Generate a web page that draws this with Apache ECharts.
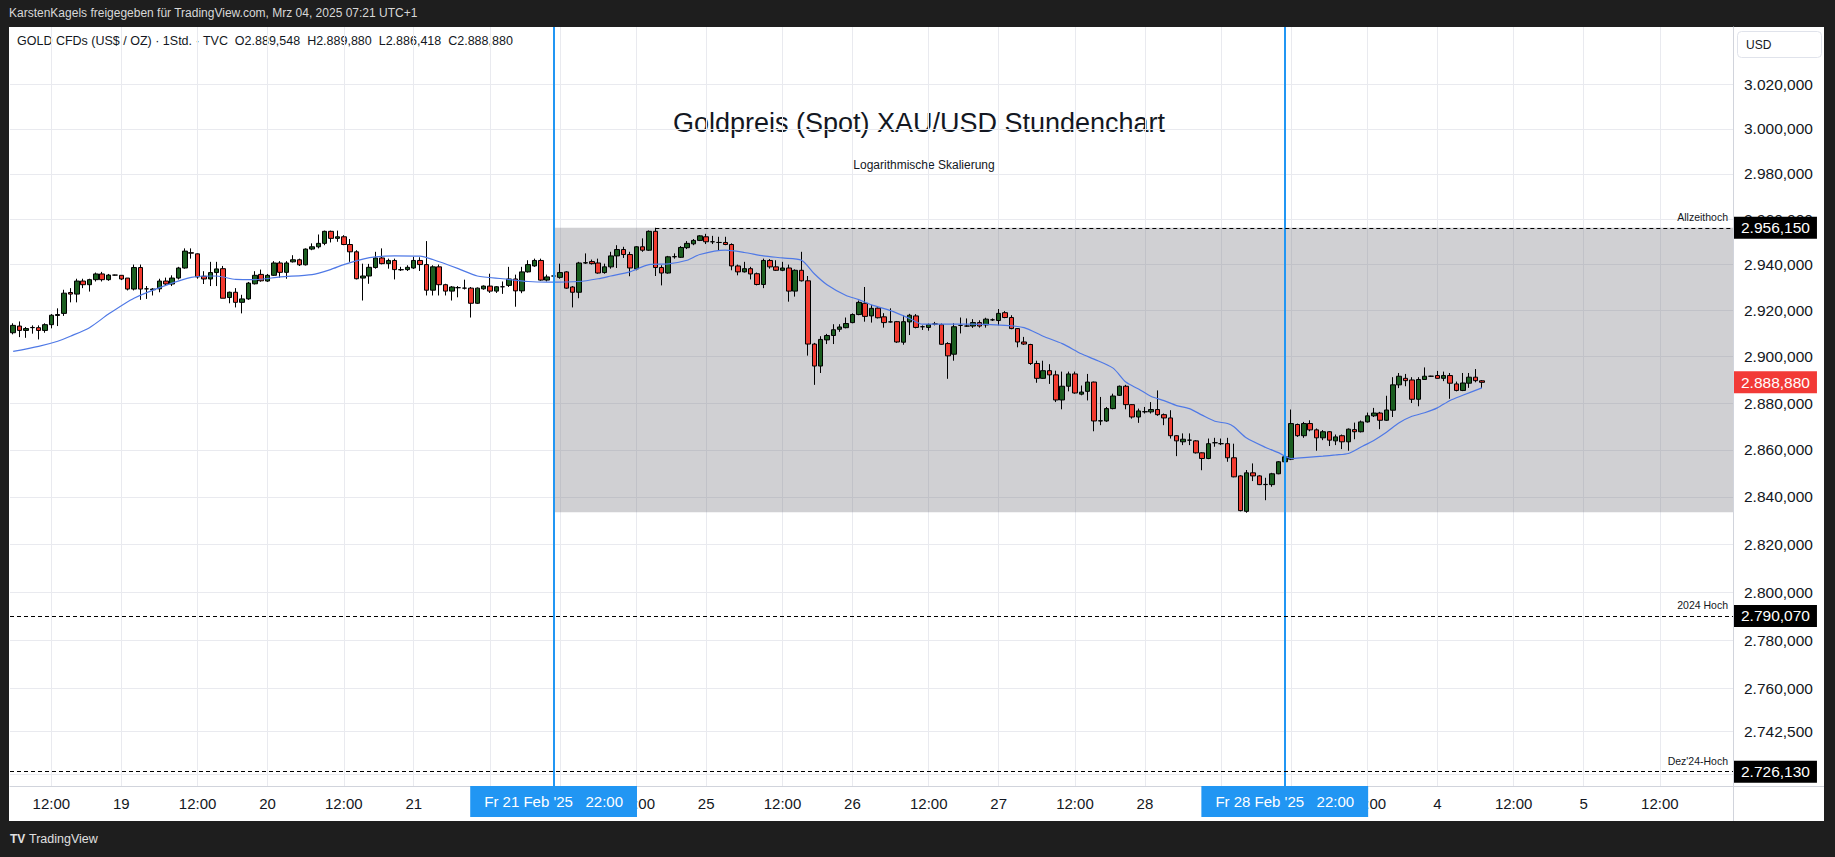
<!DOCTYPE html>
<html><head><meta charset="utf-8">
<script src="https://cdn.jsdelivr.net/npm/echarts@6/dist/echarts.min.js"></script>
<style>
html,body{margin:0;padding:0;background:#1e1e1e;width:1835px;height:857px;overflow:hidden}
#panel{position:absolute;left:9px;top:27px;width:1815px;height:794px;background:#ffffff}
#chart{position:absolute;left:0;top:0;width:1835px;height:857px}
</style></head><body>
<div id="panel"></div>
<div id="chart"></div>
<script>
// ---------- time axis (hourly bars, 23 per trading day, 00:00-22:00 UTC+1) ----------
const tradingDays = ['2025-02-18','2025-02-19','2025-02-20','2025-02-21','2025-02-24','2025-02-25','2025-02-26','2025-02-27','2025-02-28','2025-03-03','2025-03-04','2025-03-05','2025-03-06'];
const barsPerDay = 23;
const firstHour = 6;      // first visible slot: 18 Feb 06:00
const slotCount = 271;    // visible slots incl. empty future space

// ---------- OHLC (hourly), index 0 = 18 Feb 06:00 ----------
const opens = [2910.3,2913.2,2911.3,2912.5,2912.5,2911.3,2913.8,2917.8,2918.7,2927.8,2927.1,2932.8,2931.2,2933.4,2935.9,2933.4,2935.4,2935.3,2934.1,2929.3,2938.7,2929.4,2929.0,2929.4,2932.8,2931.5,2934.1,2938.5,2945.2,2944.7,2934.9,2933.7,2936.5,2938.2,2925.6,2927.9,2923.5,2925.0,2931.6,2935.7,2932.8,2935.3,2940.7,2936.6,2941.2,2942.1,2939.9,2946.8,2947.8,2949.3,2954.6,2951.5,2952.2,2948.8,2945.6,2934.1,2935.0,2938.7,2942.9,2940.4,2941.8,2937.8,2937.8,2938.5,2941.8,2940.0,2928.8,2939.0,2931.2,2928.4,2929.9,2929.7,2929.7,2923.1,2929.4,2930.6,2928.4,2930.3,2930.9,2933.7,2928.5,2936.8,2939.4,2941.8,2933.2,2935.0,2934.4,2936.8,2930.2,2927.9,2940.7,2941.3,2940.7,2936.5,2939.0,2943.8,2946.6,2944.4,2938.1,2947.8,2946.3,2954.6,2938.7,2936.3,2943.4,2943.2,2947.4,2949.1,2950.6,2952.2,2950.0,2949.7,2949.7,2948.8,2939.4,2936.8,2938.2,2936.0,2931.3,2941.8,2939.0,2937.5,2938.5,2928.4,2937.5,2932.9,2905.4,2895.9,2907.2,2909.1,2911.8,2912.5,2914.7,2918.2,2923.1,2917.6,2921.0,2917.2,2915.0,2915.1,2906.2,2915.0,2917.6,2912.9,2912.6,2914.1,2913.8,2905.6,2901.0,2913.5,2913.2,2913.2,2914.7,2913.7,2915.9,2915.6,2919.0,2916.9,2912.1,2906.3,2905.2,2897.0,2890.6,2893.9,2892.1,2881.3,2887.2,2892.5,2883.8,2885.0,2889.0,2872.3,2872.3,2877.6,2883.3,2887.2,2879.3,2874.0,2876.2,2876.2,2877.2,2875.0,2873.6,2866.0,2863.4,2864.1,2863.8,2858.7,2856.3,2863.0,2862.6,2862.6,2856.6,2848.9,2833.9,2850.2,2848.9,2845.2,2845.2,2849.8,2854.9,2856.0,2870.8,2866.0,2871.2,2868.5,2865.1,2867.7,2863.8,2866.0,2863.4,2868.6,2867.7,2871.9,2874.5,2875.7,2872.6,2876.9,2887.8,2890.6,2889.9,2881.6,2890.1,2891.5,2891.8,2890.6,2891.8,2888.2,2885.4,2888.5,2891.1,2889.548];
const closes = [2913.5,2911.3,2912.1,2912.6,2911.3,2913.8,2917.9,2918.2,2927.5,2927.1,2932.8,2931.2,2933.4,2935.9,2933.4,2935.4,2935.4,2933.7,2929.3,2938.7,2929.3,2929.4,2929.3,2932.8,2931.5,2934.1,2938.5,2945.9,2945.0,2934.6,2933.7,2936.5,2938.1,2925.3,2927.9,2923.5,2925.0,2931.9,2935.3,2932.9,2935.3,2940.7,2936.6,2940.7,2942.1,2939.9,2946.8,2947.8,2949.3,2954.6,2951.5,2952.2,2948.8,2945.6,2933.8,2935.0,2938.8,2942.9,2940.4,2941.8,2937.8,2937.7,2938.8,2941.8,2940.0,2928.8,2939.0,2931.2,2928.4,2930.2,2929.9,2929.7,2923.1,2929.7,2930.6,2928.4,2930.3,2930.3,2933.7,2928.5,2936.8,2940.0,2941.8,2933.2,2934.6,2935.0,2936.5,2929.7,2927.9,2940.7,2940.8,2940.4,2936.3,2939.0,2943.8,2946.6,2944.4,2938.5,2947.8,2946.3,2954.6,2938.7,2936.3,2943.4,2943.5,2947.5,2949.3,2950.6,2952.6,2950.0,2950.0,2949.7,2948.8,2939.4,2936.8,2938.2,2935.9,2931.3,2941.8,2939.0,2937.5,2938.5,2928.4,2937.5,2932.9,2905.4,2895.9,2907.4,2909.1,2911.6,2912.8,2914.3,2918.2,2923.5,2917.4,2920.9,2916.8,2914.7,2915.0,2906.3,2915.1,2917.9,2912.6,2912.9,2913.8,2914.1,2905.3,2900.3,2912.9,2913.5,2913.2,2914.7,2913.2,2916.2,2915.9,2918.7,2916.9,2912.1,2906.3,2905.4,2897.0,2890.6,2893.9,2892.1,2881.3,2887.2,2892.5,2884.3,2884.7,2889.0,2872.3,2872.4,2877.6,2883.0,2887.2,2879.3,2874.0,2876.6,2876.3,2877.2,2875.0,2873.6,2866.0,2863.8,2864.5,2864.1,2858.7,2856.3,2862.6,2863.0,2862.6,2856.6,2848.5,2834.2,2850.2,2848.9,2845.2,2845.3,2849.8,2854.9,2857.0,2871.2,2866.0,2871.2,2868.5,2865.1,2867.7,2864.1,2865.5,2863.4,2868.8,2867.7,2871.9,2874.5,2875.7,2872.6,2877.0,2887.8,2891.5,2889.6,2881.6,2890.1,2891.5,2891.5,2890.6,2891.8,2888.5,2885.4,2888.6,2891.1,2889.6,2888.880];
const lows = [2909.6,2908.4,2908.1,2909.9,2907.4,2910.3,2912.2,2913.2,2917.6,2923.5,2923.5,2929.7,2928.2,2932.6,2932.6,2932.9,2935.2,2933.2,2928.7,2928.7,2924.6,2925.0,2926.5,2927.9,2930.9,2930.6,2933.5,2938.2,2942.6,2933.8,2931.5,2930.6,2930.6,2925.3,2923.1,2921.3,2918.7,2924.6,2931.3,2932.5,2932.4,2935.0,2934.3,2933.8,2940.9,2939.4,2939.6,2946.3,2947.1,2948.5,2949.7,2950.0,2948.5,2941.2,2933.5,2924.3,2931.6,2938.2,2940.1,2938.2,2933.5,2937.2,2937.2,2938.1,2937.2,2926.5,2926.5,2926.5,2926.5,2924.3,2925.7,2929.1,2916.9,2922.8,2929.0,2927.6,2927.6,2927.2,2930.2,2921.6,2927.5,2936.5,2939.0,2932.9,2932.6,2933.8,2933.8,2929.4,2921.3,2925.3,2940.3,2940.0,2936.0,2936.0,2938.2,2938.5,2942.9,2934.9,2937.5,2945.6,2946.0,2935.0,2930.9,2936.0,2942.6,2942.9,2946.8,2948.5,2950.3,2949.0,2949.0,2946.0,2948.5,2937.5,2935.3,2936.5,2933.5,2930.9,2929.7,2938.2,2937.2,2937.1,2923.8,2926.0,2932.6,2900.4,2887.8,2892.9,2905.4,2905.4,2910.7,2912.2,2914.4,2917.9,2915.1,2914.7,2916.5,2912.5,2914.7,2905.9,2905.1,2909.3,2912.2,2911.5,2911.2,2913.5,2905.1,2890.4,2898.2,2910.0,2912.8,2912.4,2912.5,2912.5,2915.4,2913.5,2916.6,2911.8,2904.0,2905.0,2896.4,2888.7,2890.4,2888.2,2880.4,2877.3,2885.0,2884.0,2883.3,2881.1,2867.9,2870.5,2871.9,2877.3,2883.0,2877.3,2873.3,2871.5,2875.5,2875.5,2874.5,2870.5,2864.8,2857.3,2862.0,2862.0,2858.4,2851.3,2856.0,2861.3,2862.0,2854.9,2848.3,2833.9,2833.3,2846.7,2845.0,2838.6,2844.3,2849.6,2853.8,2855.6,2865.5,2865.1,2867.9,2859.6,2864.1,2861.6,2862.0,2860.3,2859.6,2864.5,2867.4,2871.6,2874.0,2868.8,2872.3,2874.0,2886.4,2887.2,2880.0,2878.6,2889.9,2891.2,2890.4,2889.4,2881.8,2885.0,2885.1,2886.5,2888.9,2886.418];
const highs = [2914.4,2915.2,2912.8,2913.5,2913.5,2914.4,2918.4,2920.9,2929.0,2929.7,2933.8,2933.8,2933.8,2936.5,2936.8,2935.9,2935.6,2935.3,2934.1,2940.0,2940.0,2930.6,2929.7,2933.8,2934.3,2935.3,2939.0,2947.1,2947.1,2944.9,2937.1,2941.2,2941.2,2939.4,2928.2,2929.7,2926.8,2932.4,2937.1,2937.8,2935.9,2941.5,2941.5,2941.5,2944.1,2942.6,2947.1,2949.3,2953.2,2954.9,2954.9,2954.9,2952.9,2951.2,2946.3,2940.4,2940.3,2945.6,2947.1,2942.6,2942.6,2939.0,2939.7,2943.4,2943.2,2950.3,2939.7,2940.0,2931.6,2930.6,2930.6,2933.4,2930.2,2930.0,2930.9,2936.0,2930.6,2932.6,2939.0,2935.6,2939.0,2941.9,2942.6,2942.6,2935.6,2937.9,2940.4,2937.1,2930.6,2941.2,2944.9,2942.2,2942.6,2940.4,2945.6,2948.5,2947.8,2945.6,2948.1,2951.5,2955.0,2956.15,2939.7,2943.8,2944.9,2948.1,2950.3,2951.2,2952.9,2953.5,2952.6,2952.2,2952.2,2949.3,2940.0,2941.2,2939.0,2936.5,2942.6,2942.4,2941.9,2941.2,2940.0,2937.9,2945.6,2935.0,2905.9,2908.8,2909.8,2914.0,2914.0,2916.9,2918.7,2924.3,2930.2,2922.4,2921.3,2918.8,2920.9,2915.4,2917.9,2918.5,2918.4,2913.5,2914.3,2915.0,2914.3,2906.2,2914.4,2916.9,2916.5,2916.2,2915.7,2916.8,2916.5,2920.6,2919.7,2917.9,2912.3,2908.5,2905.5,2898.2,2898.2,2896.7,2893.9,2893.5,2893.5,2893.5,2887.5,2892.5,2889.2,2882.6,2878.3,2884.0,2887.5,2887.8,2879.5,2877.6,2878.3,2880.4,2885.4,2875.5,2876.9,2866.2,2867.0,2867.0,2864.1,2858.9,2864.8,2865.1,2864.8,2865.1,2862.6,2849.2,2851.4,2854.2,2849.2,2848.1,2850.2,2855.2,2860.3,2877.2,2871.2,2871.9,2872.6,2869.1,2868.4,2867.9,2866.5,2866.5,2869.1,2871.6,2872.5,2875.9,2877.9,2876.2,2883.1,2891.1,2892.9,2892.5,2891.1,2891.1,2895.3,2891.7,2893.8,2893.5,2892.9,2889.2,2892.9,2892.9,2894.6,2889.880];

// ---------- moving average (bar index, value) ----------
const maIndex = [0,4,7,9,12,15,19,24,28,32,35,38,42,47,50,52,55,57,60,64,66,70,73,77,81,84,89,92,94,97,100,103,106,108,112,115,118,121,124,126,128,131,133,135,138,141,143,146,150,156,159,162,165,168,170,173,175,177,179,181,183,185,187,189,191,192,194,197,199,201,203,206,208,210,212,214,216,218,220,222,224,226,228,231];
const maValue = [2902.2,2904.4,2906.6,2908.8,2912.5,2918.4,2925.3,2930.9,2934.4,2935.0,2933.5,2933.4,2934.6,2935.6,2937.9,2940.0,2942.4,2943.4,2943.8,2943.7,2942.2,2938.2,2935.0,2933.8,2932.6,2932.3,2932.6,2933.8,2935.0,2936.8,2940.0,2940.3,2941.9,2944.4,2946.3,2945.3,2943.8,2942.9,2941.9,2936.0,2931.2,2926.5,2924.7,2922.4,2919.9,2916.5,2914.0,2914.0,2914.0,2913.5,2912.5,2908.8,2905.6,2901.2,2898.9,2895.0,2889.0,2886.0,2882.8,2881.0,2878.9,2877.6,2874.8,2872.2,2871.2,2869.8,2865.0,2861.0,2858.8,2856.3,2856.7,2857.3,2857.8,2858.4,2861.2,2864.0,2867.5,2871.5,2874.3,2875.8,2877.9,2881.1,2883.3,2886.5];

// ---------- price scale ticks & annotations ----------
const priceTicks = [3020,3000,2980,2960,2940,2920,2900,2880,2860,2840,2820,2800,2780,2760,2742.5];
const gridTicks = [3020,3000,2980,2960,2940,2920,2900,2880,2860,2840,2820,2800,2780,2760,2742.5,2725];
const yMin = 2720.3, yMax = 3045.9;
const allTimeHigh = 2956.15, high2024 = 2790.07, highDec24 = 2726.13, lastClose = 2888.88, rangeLow = 2833.5;
const athBar = 101;
const markerBars = [85, 200];
const markerTexts = ["Fr 21 Feb '25   22:00", "Fr 28 Feb '25   22:00"];

// ---------- build ----------
const categories = [];
tradingDays.forEach(function (d, di) {
  for (let h = 0; h < barsPerDay; h++) {
    if (di === 0 && h < firstHour) continue;
    if (categories.length < slotCount) categories.push(d + ' ' + String(h).padStart(2, '0') + ':00');
  }
});
const candleData = opens.map(function (o, i) { return [o, closes[i], lows[i], highs[i]]; });
const maData = maIndex.map(function (i, k) { return [i, maValue[k]]; });

function isMark(i) {
  if (i >= categories.length - 1) return false;
  const h = categories[i].slice(11, 13);
  return h === '00' || h === '12';
}
// day labels that sit under the blue date boxes are not shown (as in the original)
function showLabel(i) {
  return isMark(i) && markerBars.indexOf(i - 1) < 0;
}
function fmtTime(v) {
  const h = v.slice(11, 13);
  if (h === '12') return '12:00';
  return String(parseInt(v.slice(8, 10), 10));
}
function fmtPrice(v) {
  v = Math.round(v * 1000) / 1000;
  const parts = v.toFixed(3).split('.');
  return parts[0].replace(/\B(?=(\d{3})+(?!\d))/g, '.') + ',' + parts[1];
}

const FONT = "'Liberation Sans', Arial, sans-serif";
const priceBox = function (val, bg) {
  return {
    yAxis: val,
    lineStyle: { color: 'rgba(0,0,0,0)', width: 1 },
    label: { show: true, position: 'end', distance: 1, formatter: fmtPrice(val), backgroundColor: bg, color: '#ffffff',
      padding: [4, 7, 3, 7], fontSize: 15.5, lineHeight: 15, fontFamily: FONT }
  };
};
const dashed = { color: '#000000', width: 1, type: [4, 3] };
const noteLabel = function (t) {
  return { show: true, position: 'insideEndTop', distance: 5, formatter: t, color: '#131722', fontSize: 10.5, fontFamily: FONT };
};

const chart = echarts.init(document.getElementById('chart'), null, { renderer: 'svg', width: 1835, height: 857 });

function buildMarkLines(athEndPx) {
  const out = [];
  markerBars.forEach(function (b, k) {
    out.push({
      xAxis: b,
      lineStyle: { color: '#2196f3', width: 2, type: 'solid' },
      label: { show: true, position: 'start', distance: 0, formatter: markerTexts[k], backgroundColor: '#2196f3', color: '#ffffff',
        padding: [8, 14, 8, 14], fontSize: 15, lineHeight: 15, fontFamily: FONT }
    });
  });
  if (athEndPx) {
    out.push([
      { coord: [athBar, allTimeHigh], lineStyle: dashed, label: noteLabel('Allzeithoch') },
      { x: athEndPx[0], y: athEndPx[1] }
    ]);
  }
  out.push({ yAxis: high2024, lineStyle: dashed, label: noteLabel('2024 Hoch') });
  out.push({ yAxis: highDec24, lineStyle: dashed, label: noteLabel("Dez'24-Hoch") });
  out.push(priceBox(allTimeHigh, '#000000'));
  out.push(priceBox(high2024, '#000000'));
  out.push(priceBox(highDec24, '#000000'));
  out.push(priceBox(lastClose, '#f23a36'));
  return out;
}

const GRID = { left: 10, right: 102, top: 27, bottom: 71 };
chart.setOption({
  animation: false,
  backgroundColor: 'transparent',
  grid: { left: GRID.left, right: GRID.right, top: GRID.top, bottom: GRID.bottom, containLabel: false },
  xAxis: {
    type: 'category', data: categories, boundaryGap: true,
    axisLine: { show: true, lineStyle: { color: '#d1d4dc', width: 1 } },
    axisTick: { show: false },
    axisLabel: { interval: function (i) { return showLabel(i); }, formatter: fmtTime, color: '#131722', fontSize: 15, fontFamily: FONT, margin: 10 },
    splitLine: { show: true, alignWithLabel: true, interval: function (i) { return isMark(i); }, lineStyle: { color: '#e9eaef', width: 1 } }
  },
  yAxis: {
    type: 'log', logBase: 10, min: yMin, max: yMax, position: 'right',
    axisLine: { show: true, lineStyle: { color: '#d1d4dc', width: 1 } },
    axisTick: { show: false, customValues: gridTicks },
    axisLabel: { customValues: priceTicks, formatter: function (v) { return fmtPrice(v); }, color: '#131722', fontSize: 15.5, fontFamily: FONT, margin: 11 },
    splitLine: { show: true, lineStyle: { color: '#e9eaef', width: 1 } }
  },
  series: [
    {
      type: 'candlestick', name: 'XAU/USD', data: candleData, barWidth: 5, clip: false,
      itemStyle: { color: '#1b5e20', color0: '#f23a2f', borderColor: '#000000', borderColor0: '#000000', borderWidth: 1 },
      markArea: { silent: true, itemStyle: { color: 'rgba(108,108,118,0.32)' },
        data: [[{ coord: [markerBars[0], allTimeHigh] }, { coord: [Infinity, rangeLow] }]] },
      markLine: { silent: true, symbol: ['none', 'none'], animation: false, data: buildMarkLines(null) }
    },
    {
      type: 'line', name: 'MA', data: maData, showSymbol: false, smooth: 0.25, z: 3,
      lineStyle: { color: '#4f79e6', width: 1.2 }
    }
  ],
  graphic: { elements: [
    { type: 'text', x: 9, y: 13, style: { text: 'KarstenKagels freigegeben für TradingView.com, Mrz 04, 2025 07:21 UTC+1', fill: '#d8d8d8', font: '12px ' + FONT, textVerticalAlign: 'middle', verticalAlign: 'middle' } },
    { type: 'text', x: 17, y: 41, style: { text: 'GOLD CFDs (US$ / OZ) · 1Std. · TVC  O2.889,548  H2.889,880  L2.886,418  C2.888,880', fill: '#131722', font: '12.5px ' + FONT, textVerticalAlign: 'middle', verticalAlign: 'middle' } },
    { type: 'text', x: 919, y: 123, style: { text: 'Goldpreis (Spot) XAU/USD Stundenchart', fill: '#131722', font: '27px ' + FONT, textAlign: 'center', align: 'center', textVerticalAlign: 'middle', verticalAlign: 'middle' } },
    { type: 'text', x: 924, y: 165, style: { text: 'Logarithmische Skalierung', fill: '#131722', font: '12px ' + FONT, textAlign: 'center', align: 'center', textVerticalAlign: 'middle', verticalAlign: 'middle' } },
    { type: 'rect', shape: { x: 1737.5, y: 31.5, width: 84, height: 26, r: 4 }, style: { fill: '#ffffff', stroke: '#e0e3eb', lineWidth: 1 } },
    { type: 'text', x: 1746, y: 45, style: { text: 'USD', fill: '#131722', font: '12px ' + FONT, textVerticalAlign: 'middle', verticalAlign: 'middle' } },
    { type: 'line', shape: { x1: 1733.5, y1: 786, x2: 1733.5, y2: 821 }, style: { stroke: '#d1d4dc', lineWidth: 1 } },
    { type: 'line', shape: { x1: 1733, y1: 786.5, x2: 1824, y2: 786.5 }, style: { stroke: '#d1d4dc', lineWidth: 1 } },
    { type: 'text', x: 10, y: 839, style: { text: 'TV', fill: '#e0e0e0', font: 'bold 12px ' + FONT, textVerticalAlign: 'middle', verticalAlign: 'middle' } },
    { type: 'text', x: 29, y: 839, style: { text: 'TradingView', fill: '#e0e0e0', font: '12.5px ' + FONT, textVerticalAlign: 'middle', verticalAlign: 'middle' } }
  ] }
});

// the all-time-high line runs from the ATH bar to the right edge of the plot
const athY = chart.convertToPixel({ yAxisIndex: 0 }, allTimeHigh);
const plotRight = 1835 - GRID.right;
chart.setOption({ series: [{ markLine: { data: buildMarkLines([plotRight, athY]) } }] });
</script></body></html>
